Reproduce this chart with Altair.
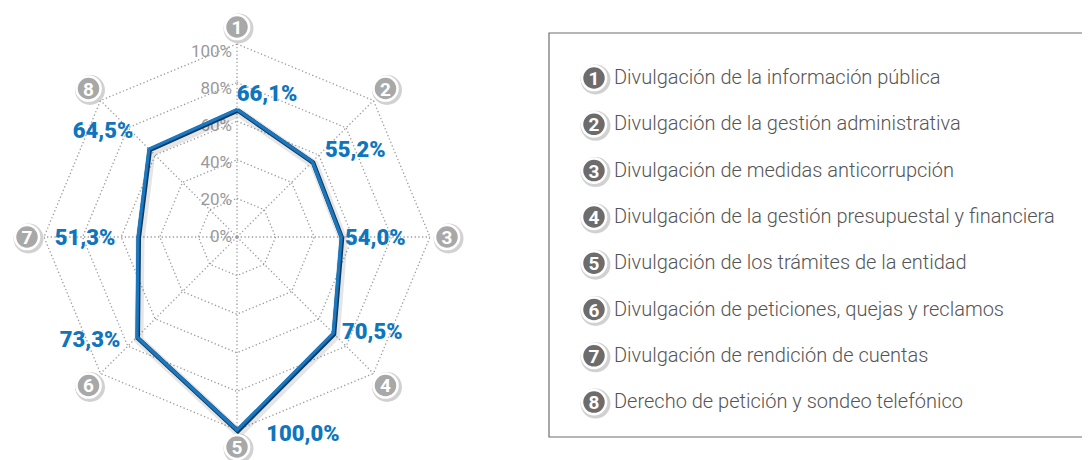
import altair as alt
import pandas as pd
import numpy as np

# ---------------- data ----------------
numbers = ["1", "2", "3", "4", "5", "6", "7", "8"]
names = [
    "Divulgación de la información pública",
    "Divulgación de la gestión administrativa",
    "Divulgación de medidas anticorrupción",
    "Divulgación de la gestión presupuestal y financiera",
    "Divulgación de los trámites de la entidad",
    "Divulgación de peticiones, quejas y reclamos",
    "Divulgación de rendición de cuentas",
    "Derecho de petición y sondeo telefónico",
]
values = [66.1, 55.2, 54.0, 70.5, 100.0, 73.3, 51.3, 64.5]
value_labels = ["66,1%", "55,2%", "54,0%", "70,5%", "100,0%", "73,3%", "51,3%", "64,5%"]
ticks = [0, 20, 40, 60, 80, 100]
tick_labels = ["0%", "20%", "40%", "60%", "80%", "100%"]

# ---------------- layout ----------------
W, H = 1074, 452
CX, CY = 229.0, 229.0
R = 193.0
RN = 210.0
# label offsets (dx, dy) from each value point
label_off = [(30, -15), (43, -12), (34, 1), (39, -1), (66, 4), (-47, 3), (-53, 1), (-46, -18)]
LEG_X, LEG_Y0, LEG_DY = 586, 70, 46.3
BOX = (541, 25, W + 4, 429)

n = len(numbers)
ang = [i * 2 * np.pi / n for i in range(n)]


def pt(frac, i):
    return CX + R * frac * np.sin(ang[i]), CY - R * frac * np.cos(ang[i])


# grid rings
rows = []
for t in ticks[1:]:
    for k in range(n + 1):
        x, y = pt(t / 100, k % n)
        rows.append({"ring": t, "o": k, "x": x, "y": y})
grid = pd.DataFrame(rows)

spokes = pd.DataFrame([
    {"x": CX, "y": CY, "x2": pt(1, i)[0], "y2": pt(1, i)[1]} for i in range(n)
])

poly = pd.DataFrame([
    {"o": k, "x": pt(values[k % n] / 100, k % n)[0], "y": pt(values[k % n] / 100, k % n)[1]}
    for k in range(n + 1)
])

vlab = pd.DataFrame([
    {"t": value_labels[i],
     "x": pt(values[i] / 100, i)[0] + label_off[i][0],
     "y": pt(values[i] / 100, i)[1] + label_off[i][1]}
    for i in range(n)
])

numc = pd.DataFrame([
    {"t": numbers[i], "x": CX + RN * np.sin(ang[i]), "y": CY - RN * np.cos(ang[i])}
    for i in range(n)
])

tickdf = pd.DataFrame([
    {"t": tick_labels[j], "x": CX - 5, "y": CY - R * 0.96 * ticks[j] / 100}
    for j in range(len(ticks))
])

leg = pd.DataFrame([
    {"n": numbers[i], "t": names[i], "x": LEG_X, "y": LEG_Y0 + LEG_DY * i}
    for i in range(n)
])

box = pd.DataFrame([{"x": BOX[0], "y": BOX[1], "x2": BOX[2], "y2": BOX[3]}])
center = pd.DataFrame([{"x": CX, "y": CY}])

X = alt.X("x:Q", scale=alt.Scale(domain=[0, W], range=[0, W], nice=False, zero=False), axis=None)
Y = alt.Y("y:Q", scale=alt.Scale(domain=[0, H], range=[0, H], nice=False, zero=False), axis=None)

GRID_COLOR = "#9b9b9b"
DASH = [1.3, 2.4]

box_l = alt.Chart(box).mark_rect(fill="white", stroke="#6f6f6f", strokeWidth=1.2).encode(
    x=X, y=Y, x2="x2:Q", y2="y2:Q")

rings = alt.Chart(grid).mark_line(color=GRID_COLOR, strokeWidth=1.3, strokeDash=DASH).encode(
    x=X, y=Y, detail="ring:N", order="o:Q")

spk = alt.Chart(spokes).mark_rule(color=GRID_COLOR, strokeWidth=1.3, strokeDash=DASH).encode(
    x=X, y=Y, x2="x2:Q", y2="y2:Q")

ctr = alt.Chart(center).mark_circle(color=GRID_COLOR, size=14, opacity=1).encode(x=X, y=Y)

ticks_l = alt.Chart(tickdf).mark_text(align="right", baseline="middle", font="Roboto",
                                      fontSize=17, color="#9a9a9a").encode(x=X, y=Y, text="t:N")

shadow = alt.Chart(poly).mark_line(color="#000000", strokeWidth=9, opacity=0.10,
                                   strokeJoin="miter", xOffset=2, yOffset=3).encode(
    x=X, y=Y, order="o:Q")
dark = alt.Chart(poly).mark_line(color="#0d3a63", strokeWidth=4.5, strokeJoin="miter",
                                 xOffset=0.8, yOffset=1.0).encode(x=X, y=Y, order="o:Q")
blue = alt.Chart(poly).mark_line(color="#1a78c0", strokeWidth=3.2, strokeJoin="miter").encode(
    x=X, y=Y, order="o:Q")

vtext = alt.Chart(vlab).mark_text(align="center", baseline="middle", font="Roboto",
                                  fontWeight=900, fontSize=22, color="#0f75bc").encode(
    x=X, y=Y, text="t:N")


def num_circles(df, fill):
    sh = alt.Chart(df).mark_circle(color="#000000", opacity=0.18, size=900,
                                   xOffset=1.5, yOffset=1.5).encode(x=X, y=Y)
    c = alt.Chart(df).mark_point(shape="circle", filled=True, fill=fill, stroke="white",
                                 strokeWidth=2.6, size=580, opacity=1).encode(x=X, y=Y)
    return sh + c


numc_l = num_circles(numc, "#a8a8a8")
numt = alt.Chart(numc).mark_text(align="center", baseline="middle", font="Roboto",
                                 fontWeight="bold", fontSize=19, color="white", dy=1).encode(
    x=X, y=Y, text="t:N")

legc = num_circles(leg, "#6c6c6c")
legn = alt.Chart(leg).mark_text(align="center", baseline="middle", font="Roboto",
                                fontWeight="bold", fontSize=19, color="white", dy=1).encode(
    x=X, y=Y, text="n:N")
legt = alt.Chart(leg).mark_text(align="left", baseline="middle", font="Roboto",
                                fontWeight=300, fontSize=20, color="#555555", dx=20).encode(
    x=X, y=Y, text="t:N")

chart = alt.layer(
    box_l, rings, spk, ctr, ticks_l, shadow, dark, blue, vtext,
    numc_l, numt, legc, legn, legt
).properties(
    width=W, height=H, padding=0, autosize="none"
).configure_view(stroke=None)

chart.save("out.html", embed_options={"renderer": "svg", "actions": False})
